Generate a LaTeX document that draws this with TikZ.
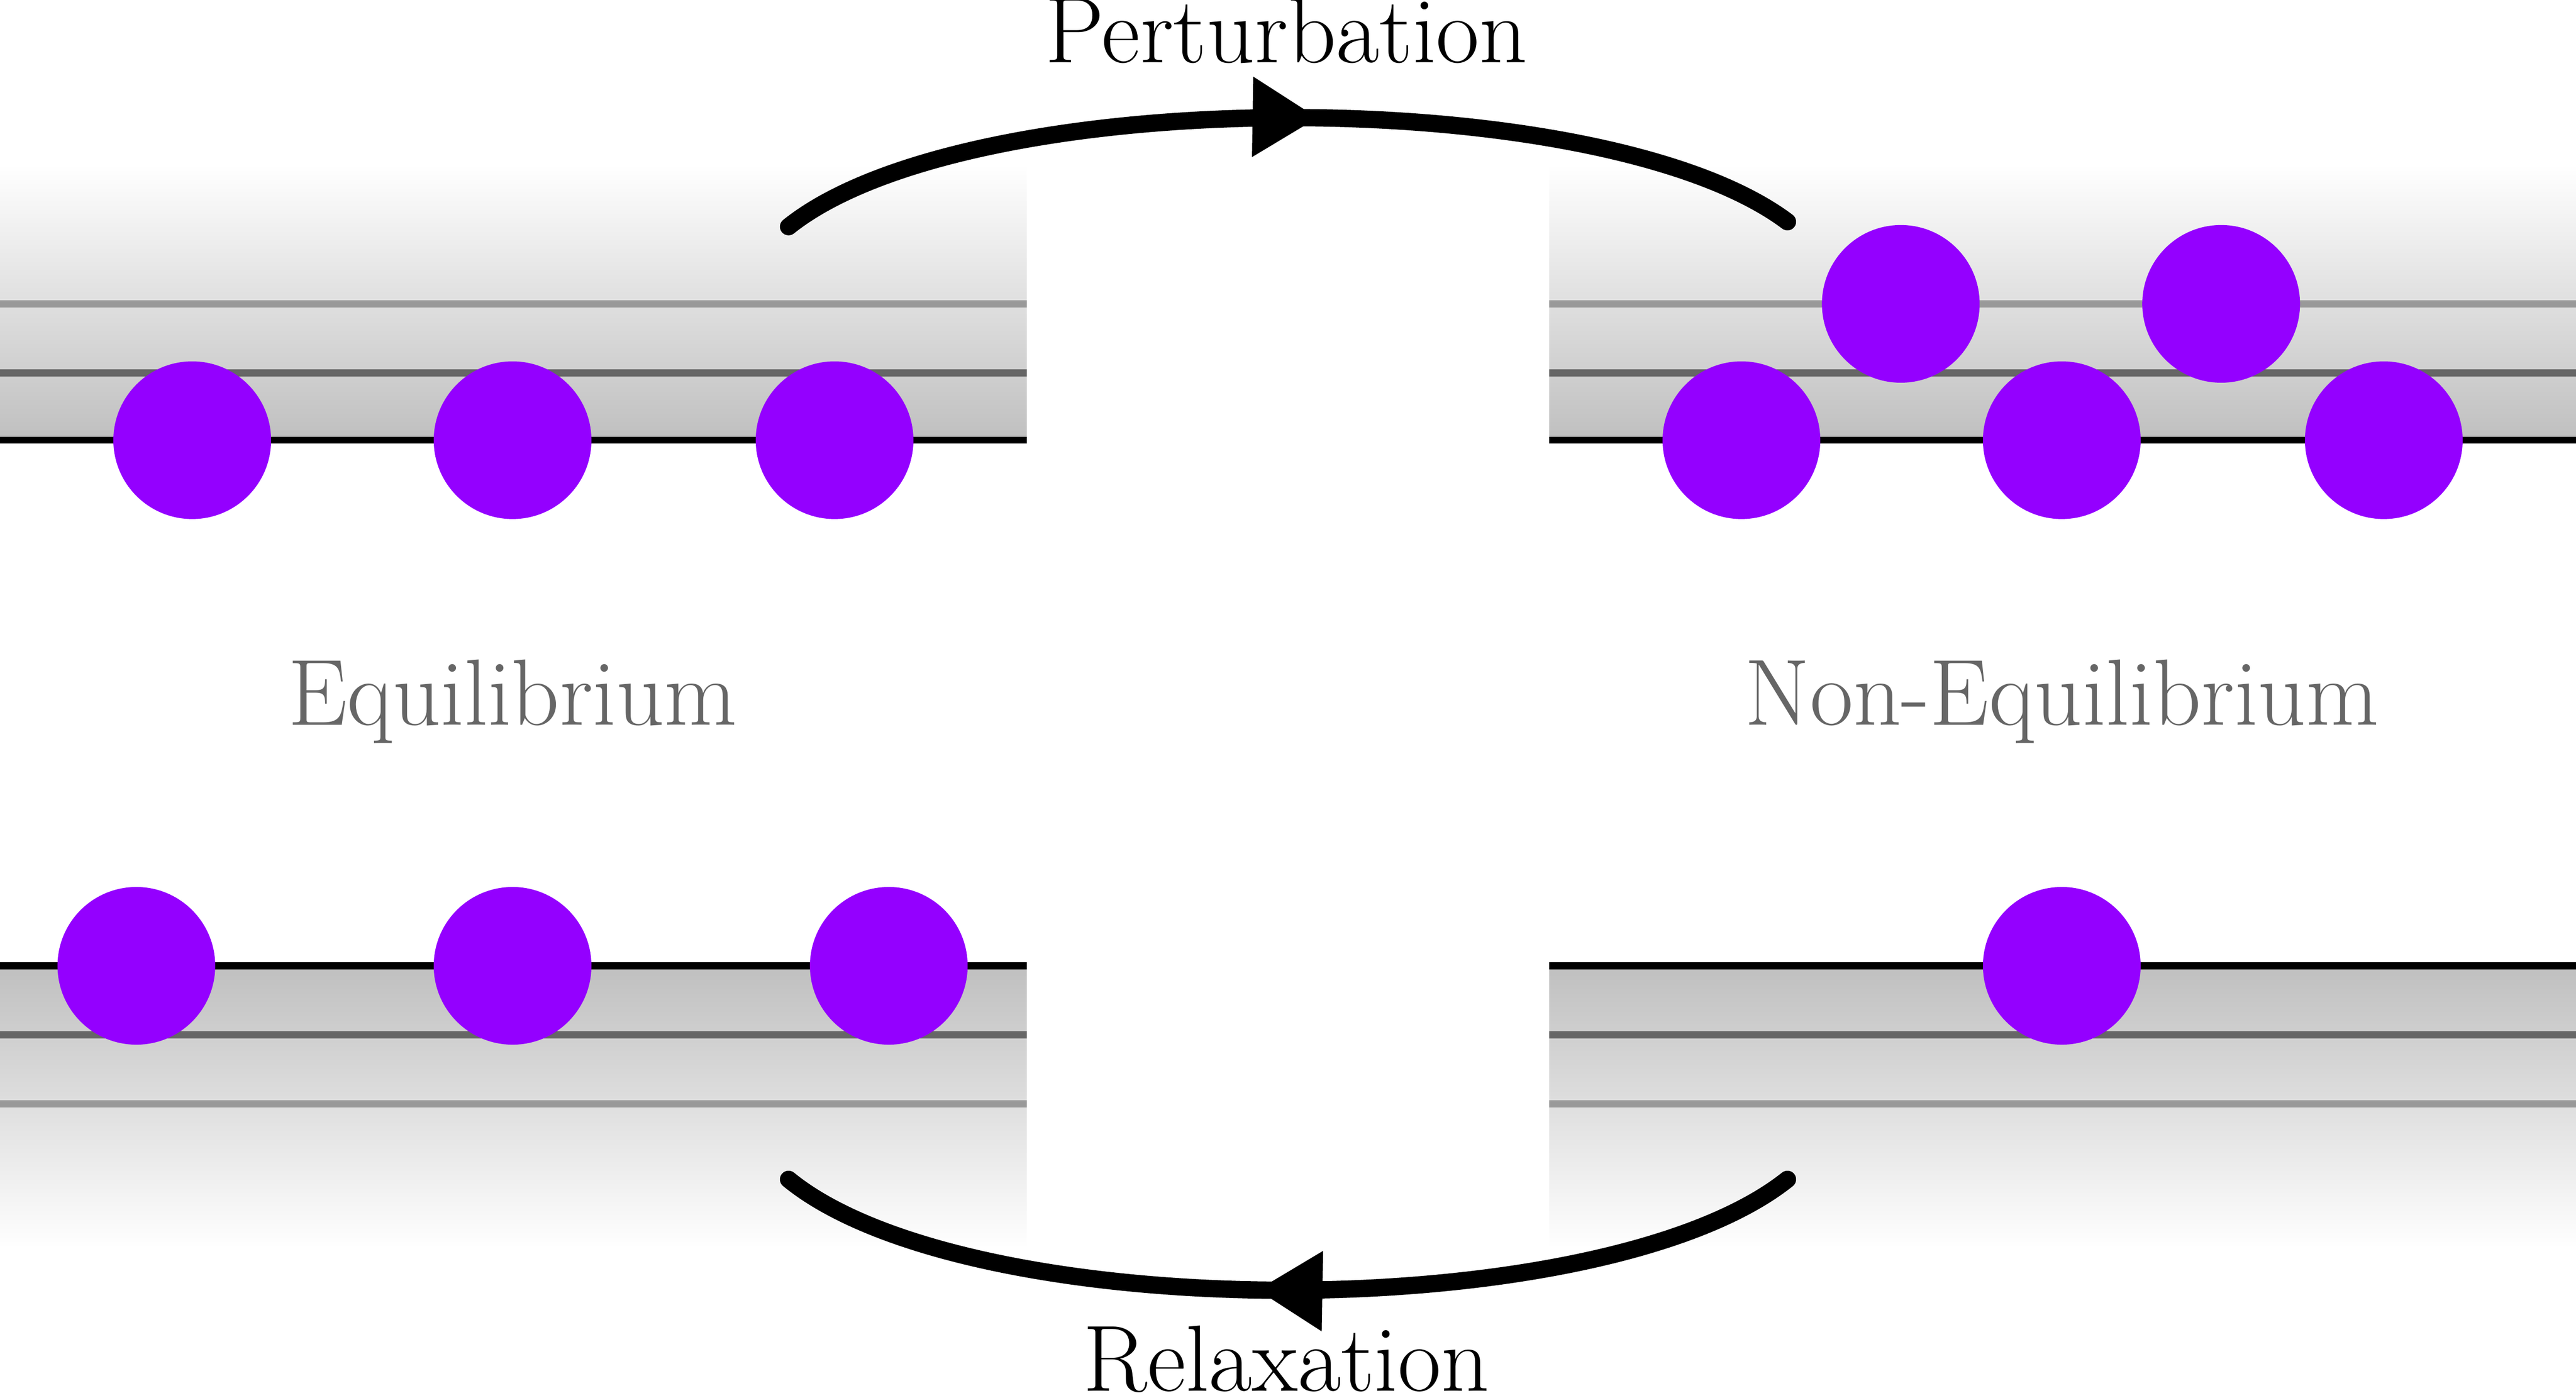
\documentclass[tikz,border=0pt]{standalone}
\usetikzlibrary{arrows.meta,decorations.markings}
\definecolor{dot}{HTML}{9400FF}
\begin{document}
\begin{tikzpicture}[x=0.1mm,y=-0.1mm,
  lvl/.style={line width=1.2pt},
  dotc/.style={circle,fill=dot,minimum size=9.6mm,inner sep=0},
  lab/.style={font=\fontsize{16.3}{19}\selectfont,inner sep=0},
  flow/.style={line width=3pt,line cap=round,postaction=decorate,
    decoration={markings,mark=at position 0.53 with {\arrow{Triangle[length=4mm,width=4.6mm]}}}}]
\useasboundingbox (0,0) rectangle (1568,851);
% bands
\foreach \x/\w in {0/625,943/1568}{
  \shade[top color=white,bottom color=black!25] (\x,100) rectangle (\w,268);
  \shade[top color=black!25,bottom color=white] (\x,588) rectangle (\w,760);
  \draw[lvl,black!40] (\x,185) -- (\w,185);
  \draw[lvl,black!60] (\x,227) -- (\w,227);
  \draw[lvl,black] (\x,268) -- (\w,268);
  \draw[lvl,black] (\x,588) -- (\w,588);
  \draw[lvl,black!60] (\x,630) -- (\w,630);
  \draw[lvl,black!40] (\x,672) -- (\w,672);
}
% dots
\node[dotc] (a1) at (117,268) {};
\node[dotc] (a2) at (312,268) {};
\node[dotc] (a3) at (508,268) {};
\node[dotc] (b1) at (1060,268) {};
\node[dotc] (b2) at (1255,268) {};
\node[dotc] (b3) at (1451,268) {};
\node[dotc] (b4) at (1157,185) {};
\node[dotc] (b5) at (1352,185) {};
\node[dotc] (c1) at (83,588) {};
\node[dotc] (c2) at (312,588) {};
\node[dotc] (c3) at (541,588) {};
\node[dotc] (d1) at (1255,588) {};
% labels
\node[lab,text=black!60] (eq) at (312,427) {Equilibrium};
\node[lab,text=black!60] (neq) at (1255,427) {Non-Equilibrium};
\node[lab,anchor=base] (pert) at (783,38) {Perturbation};
\node[lab,anchor=base] (rel) at (783,847) {Relaxation};
% arrows
\coordinate (p1) at (480,138);
\coordinate (p2) at (1088,135);
\coordinate (r1) at (1088,718);
\coordinate (r2) at (480,718);
\draw[flow] (p1) .. controls (590,50) and (975,50) .. (p2);
\draw[flow] (r1) .. controls (975,808) and (590,808) .. (r2);
\end{tikzpicture}
\end{document}
